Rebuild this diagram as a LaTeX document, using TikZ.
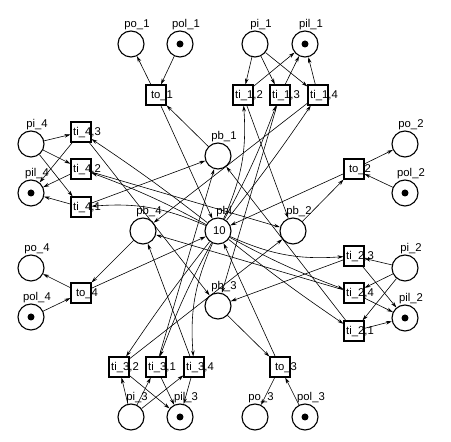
\documentclass[tikz,border=0pt]{standalone}
\usepackage{fontspec}
\setmainfont{Liberation Sans}
\usetikzlibrary{arrows.meta}
\tikzset{
  place/.style={circle, draw, line width=1.1pt, minimum size=26pt, inner sep=0pt},
  trans/.style={rectangle, draw, line width=1.1pt, minimum size=20pt, inner sep=0pt},
  arc/.style={-{Stealth[length=6pt,width=3.6pt]}, line width=0.6pt},
  lbl/.style={anchor=base, font=\fontsize{11.3}{12}\selectfont, inner sep=0pt},
  tok/.style={circle, fill, minimum size=7pt, inner sep=0pt}
}
\newcommand\mkplace[4]{\node[place] (#1) at (#2,#3) {}; \node[lbl] (#1-l) at (#2+6,#3+16.5) {#4};}
\newcommand\mktoken[1]{\node[tok] (#1-t) at (#1) {};}
\newcommand\mktrans[4]{\node[trans] (#1) at (#2,#3) {}; \node[lbl] (#1-l) at (#2+6,#3-4) {#4};}
\begin{document}
\begin{tikzpicture}[x=1pt,y=1pt]
\useasboundingbox (0,0) rectangle (451,442);
% buffer places
\mkplace{pbl}{218}{211}{pbl}
\node[lbl] (pbl-n) at (219.5,207) {10};
\mkplace{pb1}{218}{286}{pb\_1}
\mkplace{pb2}{293}{211}{pb\_2}
\mkplace{pb3}{218}{136}{pb\_3}
\mkplace{pb4}{143}{211}{pb\_4}
% side 1 (top)
\mkplace{po1}{131}{398}{po\_1}
\mkplace{pol1}{180}{398}{pol\_1}\mktoken{pol1}
\mktrans{to1}{156}{347}{to\_1}
\mkplace{pi1}{255}{398}{pi\_1}
\mkplace{pil1}{305}{398}{pil\_1}\mktoken{pil1}
\mktrans{ti12}{243}{347}{ti\_1,2}
\mktrans{ti13}{280}{347}{ti\_1,3}
\mktrans{ti14}{318}{347}{ti\_1,4}
% side 2 (right)
\mkplace{po2}{405}{298}{po\_2}
\mkplace{pol2}{405}{249}{pol\_2}\mktoken{pol2}
\mktrans{to2}{354}{273}{to\_2}
\mkplace{pi2}{405}{174}{pi\_2}
\mkplace{pil2}{405}{124}{pil\_2}\mktoken{pil2}
\mktrans{ti23}{354}{186}{ti\_2,3}
\mktrans{ti24}{354}{149}{ti\_2,4}
\mktrans{ti21}{354}{111}{ti\_2,1}
% side 3 (bottom)
\mkplace{po3}{255}{25}{po\_3}
\mkplace{pol3}{305}{25}{pol\_3}\mktoken{pol3}
\mktrans{to3}{280}{75}{to\_3}
\mkplace{pi3}{131}{25}{pi\_3}
\mkplace{pil3}{180}{25}{pil\_3}\mktoken{pil3}
\mktrans{ti32}{119}{75}{ti\_3,2}
\mktrans{ti31}{156}{75}{ti\_3,1}
\mktrans{ti34}{194}{75}{ti\_3,4}
% side 4 (left)
\mkplace{po4}{31}{174}{po\_4}
\mkplace{pol4}{31}{125}{pol\_4}\mktoken{pol4}
\mktrans{to4}{81}{149}{to\_4}
\mkplace{pi4}{31}{298}{pi\_4}
\mkplace{pil4}{31}{249}{pil\_4}\mktoken{pil4}
\mktrans{ti43}{81}{310}{ti\_4,3}
\mktrans{ti42}{81}{273}{ti\_4,2}
\mktrans{ti41}{81}{235}{ti\_4,1}
% output transitions
\foreach \i in {1,2,3,4}{
  \draw[arc] (pb\i) -- (to\i);
  \draw[arc] (pol\i) -- (to\i);
  \draw[arc] (to\i) -- (po\i);
  \draw[arc] (to\i) -- (pbl);
}
% input transitions
\foreach \i/\j/\b in {1/2/14,1/3/4,1/4/2, 2/3/14,2/4/4,2/1/2, 3/4/14,3/1/4,3/2/2, 4/1/14,4/2/4,4/3/2}{
  \draw[arc] (pi\i) -- (ti\i\j);
  \draw[arc] (pbl) to[bend right=\b] (ti\i\j);
  \draw[arc] (ti\i\j) -- (pil\i);
  \draw[arc] (ti\i\j) -- (pb\j);
}
\end{tikzpicture}
\end{document}
